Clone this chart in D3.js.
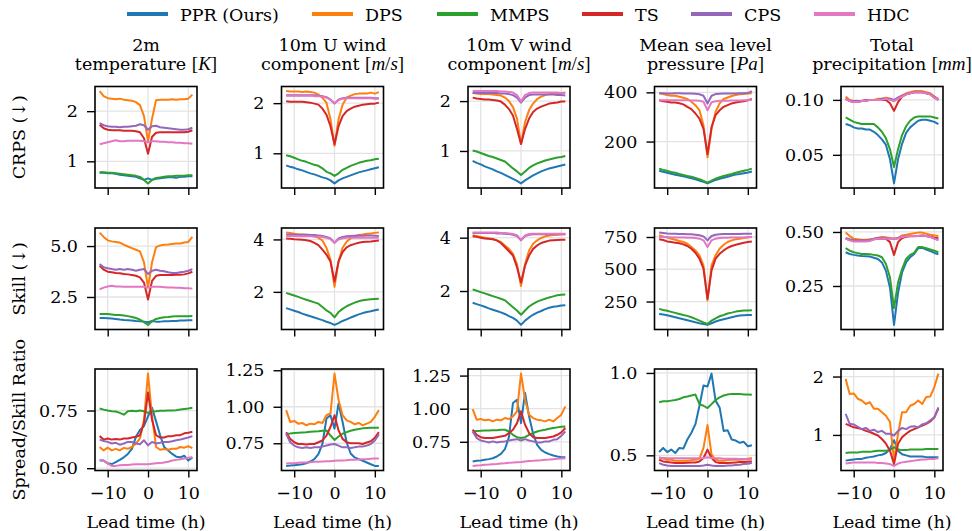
<!DOCTYPE html>
<html>
<head>
<meta charset="utf-8">
<script src="https://cdn.jsdelivr.net/npm/d3@7"></script>
<style>
  body { margin: 0; background: #fff; }
  svg text { font-family: "DejaVu Serif", serif; fill: #000; }
</style>
</head>
<body>
<div id="chart"></div>
<script>
// Lead times (h) on the x axis
var leadTime = [-12,-11,-10,-9,-8,-7,-6,-5,-4,-3,-2,-1,0,1,2,3,4,5,6,7,8,9,10,11];
var methods = ["PPR (Ours)", "DPS", "MMPS", "TS", "CPS", "HDC"];
var colors = ["#1f77b4", "#ff7f0e", "#2ca02c", "#d62728", "#9467bd", "#e377c2"];
var varTitles = [["2m", "temperature"], ["10m U wind", "component"], ["10m V wind", "component"], ["Mean sea level", "pressure"], ["Total", "precipitation"]];
var varUnits = ["K", "m/s", "m/s", "Pa", "mm"];
var metricLabels = ["CRPS (\u2193)", "Skill (\u2193)", "Spread/Skill Ratio"];

// each panel: one row per method, in the order of `methods`
var crpsT2m = [
  [0.77,0.77,0.76,0.76,0.75,0.73,0.72,0.71,0.70,0.69,0.66,0.63,0.66,0.63,0.65,0.66,0.67,0.68,0.68,0.67,0.69,0.69,0.70,0.70],
  [2.40,2.30,2.26,2.25,2.24,2.25,2.23,2.22,2.21,2.18,2.12,1.90,1.40,1.85,2.22,2.23,2.23,2.23,2.24,2.23,2.24,2.24,2.25,2.33],
  [0.78,0.78,0.77,0.77,0.76,0.75,0.74,0.73,0.72,0.71,0.69,0.63,0.56,0.63,0.67,0.68,0.69,0.70,0.70,0.71,0.71,0.71,0.72,0.72],
  [1.73,1.66,1.63,1.62,1.62,1.62,1.61,1.61,1.61,1.60,1.58,1.46,1.15,1.49,1.57,1.58,1.58,1.58,1.58,1.58,1.58,1.58,1.59,1.62],
  [1.76,1.72,1.70,1.69,1.69,1.68,1.69,1.69,1.70,1.71,1.74,1.72,1.63,1.70,1.71,1.68,1.67,1.66,1.65,1.64,1.63,1.63,1.64,1.67],
  [1.34,1.36,1.38,1.40,1.42,1.40,1.40,1.41,1.41,1.41,1.41,1.40,1.38,1.40,1.40,1.39,1.39,1.38,1.38,1.37,1.37,1.36,1.36,1.35]
];
var crpsU10 = [
  [0.76,0.73,0.71,0.68,0.66,0.63,0.60,0.58,0.55,0.52,0.50,0.46,0.40,0.46,0.50,0.53,0.56,0.59,0.62,0.64,0.66,0.68,0.70,0.72],
  [2.24,2.23,2.23,2.23,2.22,2.23,2.22,2.21,2.17,2.11,2.01,1.68,1.15,1.68,1.97,2.11,2.15,2.18,2.19,2.19,2.19,2.21,2.19,2.22],
  [0.96,0.94,0.91,0.88,0.85,0.83,0.80,0.77,0.75,0.70,0.63,0.60,0.55,0.60,0.67,0.71,0.75,0.78,0.81,0.83,0.85,0.86,0.88,0.89],
  [2.04,2.03,2.03,2.03,2.03,2.02,2.01,1.99,1.97,1.89,1.77,1.54,1.18,1.54,1.74,1.84,1.89,1.93,1.95,1.97,1.98,1.99,1.99,2.01],
  [2.16,2.16,2.16,2.16,2.16,2.16,2.16,2.16,2.15,2.14,2.12,2.07,1.99,2.07,2.10,2.11,2.11,2.11,2.11,2.11,2.11,2.11,2.10,2.10],
  [2.15,2.15,2.15,2.15,2.15,2.15,2.15,2.14,2.14,2.13,2.11,2.07,2.00,2.06,2.09,2.10,2.10,2.10,2.10,2.10,2.10,2.10,2.09,2.09]
];
var crpsV10 = [
  [0.80,0.76,0.73,0.69,0.66,0.63,0.59,0.56,0.52,0.48,0.44,0.40,0.35,0.41,0.46,0.51,0.55,0.59,0.62,0.65,0.67,0.69,0.71,0.73],
  [2.16,2.15,2.14,2.14,2.14,2.13,2.12,2.11,2.07,2.00,1.88,1.65,1.14,1.58,1.82,1.95,2.04,2.09,2.12,2.14,2.14,2.15,2.16,2.17],
  [1.01,0.99,0.96,0.93,0.90,0.88,0.85,0.82,0.79,0.72,0.65,0.59,0.52,0.59,0.66,0.71,0.75,0.78,0.81,0.83,0.85,0.87,0.88,0.90],
  [2.07,2.05,2.04,2.03,2.03,2.02,2.01,1.99,1.93,1.84,1.71,1.44,1.14,1.44,1.65,1.78,1.85,1.89,1.92,1.95,1.96,1.97,1.99,1.99],
  [2.16,2.16,2.16,2.16,2.16,2.16,2.16,2.15,2.15,2.14,2.12,2.07,1.97,2.07,2.12,2.13,2.13,2.13,2.13,2.13,2.13,2.12,2.12,2.11],
  [2.20,2.20,2.20,2.20,2.20,2.20,2.20,2.19,2.19,2.18,2.17,2.12,1.99,2.12,2.16,2.17,2.17,2.17,2.17,2.17,2.17,2.17,2.16,2.16]
];
var crpsMslp = [
  [81,77,73,69,65,62,59,55,51,47,41,36,30,37,44,49,53,57,62,66,68,71,74,78],
  [396,393,389,386,386,382,378,373,362,348,327,266,136,252,321,355,373,379,385,389,392,393,395,396],
  [90,85,81,76,73,68,64,60,57,52,47,40,33,41,49,55,60,64,68,73,77,81,85,90],
  [368,364,362,359,359,356,351,341,332,314,293,252,149,259,307,327,341,348,355,359,362,364,368,373],
  [396,396,395,395,396,396,395,395,395,394,392,386,355,386,393,394,395,395,395,395,396,396,397,405],
  [368,368,368,368,368,368,368,368,367,367,366,362,327,360,364,366,366,366,367,367,367,368,368,370]
];
var crpsTp = [
  [0.078,0.077,0.075,0.074,0.074,0.073,0.073,0.071,0.068,0.064,0.059,0.046,0.024,0.046,0.060,0.070,0.075,0.078,0.081,0.082,0.082,0.081,0.080,0.078],
  [0.103,0.100,0.099,0.099,0.099,0.100,0.100,0.100,0.101,0.101,0.102,0.101,0.099,0.102,0.104,0.106,0.107,0.108,0.108,0.108,0.107,0.106,0.103,0.101],
  [0.084,0.082,0.080,0.079,0.078,0.078,0.078,0.078,0.075,0.071,0.065,0.055,0.039,0.055,0.068,0.076,0.081,0.084,0.085,0.085,0.085,0.085,0.084,0.083],
  [0.101,0.099,0.098,0.098,0.099,0.099,0.100,0.100,0.100,0.100,0.100,0.097,0.090,0.098,0.103,0.105,0.106,0.107,0.107,0.107,0.106,0.105,0.102,0.100],
  [0.101,0.099,0.099,0.099,0.099,0.100,0.100,0.100,0.100,0.101,0.101,0.101,0.100,0.102,0.104,0.105,0.106,0.107,0.107,0.107,0.106,0.105,0.103,0.100],
  [0.101,0.099,0.098,0.098,0.099,0.099,0.100,0.100,0.100,0.100,0.101,0.100,0.099,0.101,0.103,0.105,0.106,0.107,0.107,0.107,0.106,0.105,0.102,0.100]
];
var skillT2m = [
  [1.47,1.47,1.46,1.44,1.42,1.39,1.37,1.36,1.34,1.32,1.31,1.29,1.26,1.32,1.29,1.29,1.31,1.31,1.32,1.32,1.34,1.34,1.36,1.36],
  [5.66,5.45,5.28,5.23,5.20,5.17,5.07,4.98,4.90,4.82,4.74,4.20,2.96,4.20,4.95,5.03,5.07,5.08,5.10,5.12,5.13,5.17,5.20,5.45],
  [1.67,1.67,1.66,1.64,1.62,1.61,1.59,1.56,1.52,1.47,1.39,1.26,1.13,1.31,1.42,1.47,1.51,1.52,1.54,1.56,1.56,1.56,1.56,1.57],
  [4.04,3.84,3.74,3.71,3.68,3.66,3.63,3.61,3.58,3.54,3.46,3.21,2.38,3.29,3.54,3.58,3.58,3.58,3.58,3.59,3.59,3.61,3.66,3.74],
  [4.12,3.96,3.91,3.87,3.84,3.87,3.84,3.87,3.84,3.79,3.84,3.87,3.63,3.79,3.84,3.79,3.76,3.71,3.68,3.68,3.71,3.74,3.79,3.87],
  [2.88,2.96,3.01,3.05,3.01,3.01,3.00,3.00,3.00,3.00,3.00,3.00,2.96,3.00,3.00,3.00,2.98,2.96,2.96,2.95,2.95,2.93,2.93,2.91]
];
var skillU10 = [
  [1.38,1.33,1.28,1.23,1.17,1.12,1.07,1.02,0.97,0.92,0.86,0.81,0.74,0.81,0.89,0.95,1.02,1.08,1.14,1.19,1.23,1.26,1.30,1.33],
  [4.26,4.25,4.22,4.19,4.19,4.18,4.17,4.13,4.06,3.96,3.68,3.23,2.19,3.16,3.68,3.91,4.04,4.12,4.17,4.19,4.22,4.23,4.25,4.26],
  [1.96,1.91,1.86,1.81,1.75,1.70,1.65,1.60,1.55,1.42,1.29,1.20,1.03,1.23,1.35,1.45,1.52,1.59,1.64,1.68,1.70,1.72,1.73,1.74],
  [4.04,4.03,4.01,4.00,3.99,3.97,3.94,3.87,3.78,3.61,3.42,3.16,2.39,3.16,3.52,3.70,3.78,3.83,3.87,3.90,3.91,3.92,3.94,3.96],
  [4.19,4.19,4.18,4.18,4.18,4.18,4.17,4.17,4.15,4.13,4.09,4.04,3.87,4.04,4.09,4.12,4.13,4.14,4.14,4.14,4.15,4.15,4.14,4.13],
  [4.13,4.13,4.13,4.12,4.12,4.12,4.12,4.10,4.10,4.09,4.06,4.01,3.87,4.00,4.04,4.06,4.06,4.06,4.06,4.06,4.06,4.06,4.06,4.06]
];
var skillV10 = [
  [1.56,1.51,1.46,1.41,1.35,1.30,1.25,1.20,1.14,1.06,0.99,0.89,0.73,0.89,1.01,1.11,1.19,1.25,1.32,1.37,1.41,1.43,1.46,1.47],
  [4.09,4.06,4.03,4.00,3.97,3.95,3.90,3.84,3.71,3.58,3.39,3.01,2.19,3.01,3.52,3.77,3.90,3.99,4.05,4.08,4.10,4.11,4.13,4.13],
  [2.06,2.01,1.96,1.91,1.86,1.81,1.76,1.71,1.65,1.52,1.39,1.27,1.11,1.27,1.42,1.52,1.60,1.66,1.71,1.76,1.80,1.84,1.86,1.87],
  [4.05,4.03,4.00,3.97,3.96,3.94,3.90,3.80,3.65,3.49,3.33,2.89,2.32,2.95,3.33,3.58,3.71,3.80,3.85,3.89,3.90,3.91,3.92,3.92],
  [4.18,4.18,4.18,4.18,4.18,4.18,4.16,4.16,4.15,4.14,4.11,4.06,3.90,4.06,4.11,4.13,4.13,4.13,4.13,4.13,4.13,4.13,4.13,4.13],
  [4.19,4.19,4.19,4.19,4.19,4.19,4.19,4.18,4.18,4.16,4.14,4.09,3.92,4.08,4.14,4.15,4.15,4.15,4.15,4.15,4.15,4.15,4.15,4.15]
];
var skillMslp = [
  [154,149,144,136,128,120,113,105,97,89,82,76,69,82,95,105,113,120,128,136,141,144,146,146],
  [763,755,745,737,729,719,711,698,672,646,608,530,258,530,608,659,690,711,724,732,737,742,747,750],
  [193,185,178,170,162,154,146,139,128,115,102,89,76,102,120,136,146,157,164,172,177,180,180,183],
  [732,727,716,711,706,701,693,680,659,628,582,504,271,491,582,620,646,667,680,690,698,706,711,716],
  [784,781,778,776,776,773,773,771,771,768,763,755,724,758,768,771,773,773,773,773,773,776,776,776],
  [750,750,750,747,747,747,747,745,745,742,737,724,672,724,737,742,745,745,747,747,747,747,750,750]
];
var skillTp = [
  [0.406,0.398,0.394,0.391,0.389,0.388,0.386,0.381,0.375,0.359,0.320,0.242,0.070,0.219,0.313,0.359,0.383,0.398,0.425,0.427,0.419,0.411,0.403,0.397],
  [0.497,0.481,0.469,0.466,0.464,0.464,0.466,0.469,0.473,0.477,0.475,0.472,0.469,0.472,0.484,0.487,0.491,0.494,0.497,0.497,0.492,0.487,0.484,0.481],
  [0.425,0.414,0.406,0.402,0.398,0.398,0.397,0.394,0.391,0.383,0.352,0.289,0.148,0.266,0.328,0.375,0.394,0.403,0.430,0.430,0.425,0.419,0.413,0.406],
  [0.469,0.463,0.459,0.459,0.459,0.459,0.461,0.466,0.469,0.469,0.469,0.453,0.394,0.453,0.472,0.478,0.480,0.480,0.481,0.483,0.481,0.478,0.473,0.472],
  [0.472,0.466,0.461,0.461,0.461,0.461,0.463,0.469,0.472,0.472,0.472,0.470,0.469,0.472,0.478,0.481,0.481,0.481,0.481,0.484,0.481,0.477,0.469,0.464],
  [0.469,0.461,0.456,0.456,0.456,0.456,0.458,0.466,0.469,0.469,0.469,0.469,0.469,0.469,0.477,0.480,0.481,0.481,0.481,0.484,0.481,0.477,0.469,0.461]
];
var ratioT2m = [
  [0.533,0.533,0.521,0.518,0.526,0.536,0.547,0.562,0.584,0.636,0.666,0.683,0.725,0.762,0.703,0.643,0.592,0.577,0.562,0.550,0.547,0.554,0.533,0.547],
  [0.592,0.577,0.589,0.577,0.584,0.577,0.588,0.584,0.592,0.607,0.629,0.710,0.910,0.725,0.592,0.580,0.583,0.580,0.584,0.584,0.592,0.589,0.595,0.587],
  [0.759,0.754,0.750,0.747,0.746,0.740,0.732,0.747,0.749,0.747,0.750,0.747,0.740,0.746,0.747,0.749,0.749,0.750,0.750,0.751,0.754,0.757,0.759,0.762],
  [0.639,0.624,0.629,0.624,0.627,0.624,0.629,0.629,0.633,0.636,0.643,0.695,0.828,0.710,0.643,0.633,0.633,0.639,0.639,0.643,0.643,0.651,0.654,0.658],
  [0.624,0.618,0.614,0.607,0.610,0.602,0.607,0.614,0.614,0.607,0.604,0.621,0.599,0.614,0.607,0.610,0.614,0.614,0.617,0.621,0.624,0.629,0.633,0.639],
  [0.536,0.533,0.521,0.510,0.510,0.513,0.514,0.514,0.516,0.517,0.517,0.517,0.517,0.519,0.521,0.522,0.525,0.528,0.533,0.536,0.539,0.542,0.545,0.547]
];
var ratioU10 = [
  [0.595,0.597,0.600,0.602,0.606,0.613,0.625,0.641,0.676,0.745,0.919,0.942,0.850,1.023,0.896,0.757,0.680,0.653,0.641,0.630,0.618,0.606,0.595,0.595],
  [0.977,0.896,0.903,0.884,0.889,0.873,0.884,0.880,0.896,0.889,0.942,0.954,1.227,1.046,0.942,0.907,0.896,0.880,0.889,0.873,0.884,0.896,0.931,0.977],
  [0.815,0.817,0.820,0.822,0.824,0.826,0.829,0.831,0.833,0.836,0.838,0.803,0.773,0.796,0.815,0.826,0.836,0.843,0.847,0.852,0.854,0.856,0.856,0.856],
  [0.826,0.780,0.757,0.745,0.745,0.741,0.745,0.745,0.757,0.769,0.803,0.861,0.942,0.838,0.780,0.757,0.750,0.750,0.750,0.745,0.755,0.764,0.787,0.826],
  [0.815,0.757,0.734,0.722,0.718,0.722,0.718,0.722,0.722,0.727,0.734,0.741,0.745,0.734,0.722,0.722,0.718,0.722,0.727,0.727,0.734,0.745,0.769,0.810],
  [0.611,0.613,0.613,0.616,0.618,0.618,0.620,0.623,0.623,0.625,0.627,0.627,0.630,0.632,0.632,0.634,0.637,0.637,0.639,0.641,0.641,0.644,0.646,0.646]
];
var ratioV10 = [
  [0.601,0.606,0.609,0.614,0.619,0.626,0.639,0.659,0.694,0.785,1.043,1.068,0.891,1.119,0.942,0.811,0.727,0.689,0.669,0.657,0.646,0.639,0.634,0.634],
  [0.997,0.917,0.922,0.912,0.917,0.904,0.917,0.912,0.929,0.922,0.942,0.980,1.265,1.068,0.955,0.929,0.917,0.912,0.904,0.917,0.904,0.929,0.955,1.018],
  [0.828,0.831,0.833,0.836,0.836,0.838,0.838,0.841,0.841,0.828,0.803,0.785,0.778,0.785,0.803,0.816,0.828,0.836,0.841,0.848,0.854,0.859,0.864,0.866],
  [0.841,0.803,0.785,0.778,0.778,0.778,0.785,0.790,0.795,0.816,0.841,0.891,0.980,0.879,0.816,0.785,0.778,0.778,0.778,0.785,0.790,0.803,0.821,0.854],
  [0.828,0.778,0.760,0.753,0.745,0.753,0.745,0.750,0.753,0.760,0.765,0.770,0.760,0.770,0.760,0.753,0.745,0.745,0.753,0.753,0.765,0.770,0.795,0.828],
  [0.568,0.571,0.573,0.576,0.578,0.581,0.583,0.586,0.588,0.591,0.593,0.596,0.598,0.601,0.604,0.606,0.609,0.611,0.614,0.616,0.619,0.621,0.624,0.626]
];
var ratioMslp = [
  [0.520,0.545,0.520,0.535,0.514,0.545,0.541,0.596,0.637,0.689,0.801,0.924,0.918,0.996,0.832,0.791,0.648,0.652,0.596,0.590,0.576,0.582,0.555,0.561],
  [0.488,0.480,0.473,0.473,0.467,0.467,0.467,0.467,0.471,0.473,0.480,0.545,0.684,0.504,0.473,0.467,0.467,0.471,0.473,0.473,0.473,0.475,0.480,0.484],
  [0.822,0.828,0.828,0.832,0.836,0.842,0.852,0.857,0.863,0.869,0.811,0.801,0.787,0.811,0.836,0.852,0.863,0.869,0.873,0.873,0.873,0.869,0.869,0.867],
  [0.473,0.463,0.459,0.457,0.453,0.453,0.453,0.455,0.457,0.457,0.463,0.484,0.535,0.484,0.459,0.453,0.453,0.453,0.455,0.457,0.459,0.459,0.461,0.463],
  [0.453,0.443,0.439,0.436,0.436,0.436,0.436,0.436,0.436,0.436,0.436,0.439,0.443,0.439,0.436,0.436,0.436,0.439,0.439,0.441,0.443,0.447,0.449,0.453],
  [0.484,0.484,0.482,0.482,0.482,0.482,0.482,0.482,0.482,0.482,0.482,0.484,0.488,0.484,0.482,0.482,0.480,0.480,0.480,0.480,0.478,0.478,0.475,0.473]
];
var ratioTp = [
  [0.56,0.57,0.58,0.59,0.59,0.61,0.62,0.63,0.65,0.66,0.69,0.76,0.91,0.73,0.67,0.65,0.63,0.63,0.63,0.63,0.62,0.62,0.62,0.62],
  [1.96,1.70,1.71,1.62,1.59,1.53,1.56,1.45,1.45,1.39,1.33,1.22,0.56,1.02,1.39,1.39,1.50,1.53,1.59,1.53,1.65,1.66,1.82,2.05],
  [0.69,0.70,0.70,0.70,0.71,0.71,0.71,0.72,0.73,0.73,0.73,0.74,0.79,0.75,0.74,0.74,0.75,0.75,0.75,0.75,0.76,0.76,0.76,0.76],
  [1.19,1.16,1.13,1.12,1.10,1.07,1.05,1.02,0.99,0.93,0.85,0.73,0.50,0.85,0.96,1.02,1.07,1.10,1.13,1.16,1.19,1.23,1.30,1.45],
  [1.36,1.19,1.18,1.14,1.10,1.12,1.07,1.09,1.05,1.07,1.02,1.02,0.99,1.07,1.12,1.10,1.14,1.15,1.13,1.18,1.20,1.25,1.30,1.47],
  [0.51,0.52,0.53,0.53,0.53,0.53,0.53,0.53,0.52,0.52,0.51,0.50,0.47,0.51,0.53,0.54,0.55,0.56,0.57,0.58,0.58,0.59,0.59,0.60]
];

// y tick values and formats per row / column
var yTicks = [
  [[1, 2], [1, 2], [1, 2], [200, 400], [0.05, 0.10]],
  [[2.5, 5.0], [2, 4], [2, 4], [250, 500, 750], [0.25, 0.50]],
  [[0.50, 0.75], [0.75, 1.00, 1.25], [0.75, 1.00, 1.25], [0.5, 1.0], [1, 2]]
];
var yFormats = [
  [".0f", ".0f", ".0f", ".0f", ".2f"],
  [".1f", ".0f", ".0f", ".0f", ".2f"],
  [".2f", ".2f", ".2f", ".1f", ".0f"]
];
var xTicks = [-10, 0, 10];

var panels = [
  [crpsT2m, crpsU10, crpsV10, crpsMslp, crpsTp],
  [skillT2m, skillU10, skillV10, skillMslp, skillTp],
  [ratioT2m, ratioU10, ratioV10, ratioMslp, ratioTp]
];

// Figure size and panel grid
var width = 972, height = 531;
var pw = 102, ph = 101.5;
var colLeft = [95, 281.5, 468, 654.5, 841];
var rowTop = [86.5, 228, 369];
var fs = 17.5;

var svg = d3.select("#chart").append("svg")
  .attr("width", width)
  .attr("height", height);

// Legend across the top
var legX = [127, 312, 437, 582, 691, 814];
var legend = svg.append("g").attr("class", "legend");
methods.forEach(function(m, i) {
  legend.append("line")
    .attr("x1", legX[i]).attr("x2", legX[i] + 41)
    .attr("y1", 14).attr("y2", 14)
    .attr("stroke", colors[i]).attr("stroke-width", 4);
  legend.append("text")
    .attr("x", legX[i] + 53).attr("y", 20.5)
    .style("font-size", fs + "px")
    .text(m);
});

// Column titles, units set in a math-like italic
varTitles.forEach(function(t, c) {
  var cx = colLeft[c] + pw / 2;
  svg.append("text").attr("x", cx).attr("y", 51)
    .attr("text-anchor", "middle").style("font-size", fs + "px")
    .text(t[0]);
  var t2 = svg.append("text").attr("x", cx).attr("y", 70)
    .attr("text-anchor", "middle").style("font-size", fs + "px");
  t2.append("tspan").text(t[1] + " ");
  var unit = "[" + varUnits[c] + "]";
  unit.split("").forEach(function(ch) {
    t2.append("tspan")
      .style("font-family", "'Liberation Serif', serif")
      .style("font-size", "19px")
      .style("font-style", /[A-Za-z]/.test(ch) ? "italic" : "normal")
      .text(ch);
  });
});

var x = d3.scaleLinear()
  .domain([leadTime[0] - 1.15, leadTime[leadTime.length - 1] + 1.15]);

panels.forEach(function(row, r) {
  row.forEach(function(series, c) {
    var left = colLeft[c], top = rowTop[r];
    var g = svg.append("g").attr("transform", "translate(" + left + "," + top + ")");
    var xs = x.copy().range([0, pw]);
    var ext = d3.extent(d3.merge(series));
    var pad = (ext[1] - ext[0]) * 0.05;
    var ys = d3.scaleLinear().domain([ext[0] - pad, ext[1] + pad]).range([ph, 0]);

    // grid
    g.append("g").selectAll("line").data(xTicks).enter().append("line")
      .attr("x1", function(d) { return xs(d); }).attr("x2", function(d) { return xs(d); })
      .attr("y1", 0).attr("y2", ph)
      .attr("stroke", "#e3e3e3").attr("stroke-width", 1.3);
    g.append("g").selectAll("line").data(yTicks[r][c]).enter().append("line")
      .attr("x1", 0).attr("x2", pw)
      .attr("y1", function(d) { return ys(d); }).attr("y2", function(d) { return ys(d); })
      .attr("stroke", "#e3e3e3").attr("stroke-width", 1.3);

    // series lines
    var line = d3.line()
      .x(function(d, i) { return xs(leadTime[i]); })
      .y(function(d) { return ys(d); });
    series.forEach(function(vals, i) {
      g.append("path").datum(vals)
        .attr("d", line)
        .attr("fill", "none")
        .attr("stroke", colors[i])
        .attr("stroke-width", 2)
        .attr("stroke-linejoin", "round");
    });

    // axes
    var yAxis = d3.axisLeft(ys).tickValues(yTicks[r][c])
      .tickFormat(d3.format(yFormats[r][c])).tickSize(8).tickPadding(9);
    var ya = g.append("g").call(yAxis);
    var xAxis = d3.axisBottom(xs).tickValues(xTicks).tickSize(7).tickPadding(9)
      .tickFormat(r === 2 ? d3.format("d") : function() { return ""; });
    var xa = g.append("g").attr("transform", "translate(0," + ph + ")").call(xAxis);
    [ya, xa].forEach(function(a) {
      a.select(".domain").remove();
      a.selectAll(".tick line").attr("stroke", "#000").attr("stroke-width", 1.4);
      a.selectAll(".tick text").style("font-size", fs + "px")
        .style("font-family", "'DejaVu Serif', serif");
    });

    // frame
    g.append("rect").attr("width", pw).attr("height", ph)
      .attr("fill", "none").attr("stroke", "#000").attr("stroke-width", 1.6);

    if (r === 2) {
      g.append("text").attr("x", pw / 2).attr("y", ph + 57)
        .attr("text-anchor", "middle").style("font-size", fs + "px")
        .text("Lead time (h)");
    }
  });
  // row labels
  svg.append("text")
    .attr("transform", "translate(25," + (rowTop[r] + ph / 2) + ") rotate(-90)")
    .attr("text-anchor", "middle").style("font-size", fs + "px")
    .text(metricLabels[r]);
});
</script>
</body>
</html>
